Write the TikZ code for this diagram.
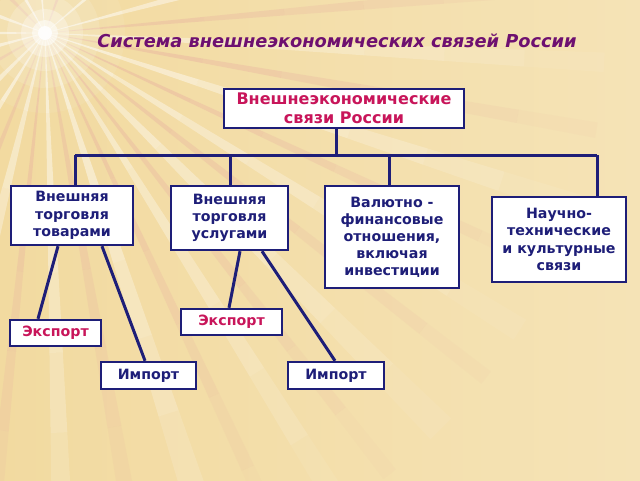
\documentclass[tikz,border=0pt]{standalone}
\usepackage{fontspec}
\setmainfont{DejaVu Sans}
\definecolor{bg}{HTML}{F2DAA0}
\definecolor{bglight}{HTML}{F5E3B6}
\definecolor{navy}{HTML}{1E1E78}
\definecolor{ttl}{HTML}{6E1070}
\definecolor{rd}{HTML}{C8155A}
\definecolor{rayp}{HTML}{E8B0A0}
\tikzset{
  box/.style={draw=navy, line width=2.4pt, fill=white, text=navy, align=center,
    font=\fontsize{14.2}{17.3}\selectfont\bfseries, inner sep=0pt},
  conn/.style={draw=navy, line width=3pt},
}
\begin{document}
\begin{tikzpicture}[x=1pt,y=-1pt]
\useasboundingbox (0,0) rectangle (640,480);
% background
\shade[left color=bg, right color=bglight] (0,0) rectangle (640,480);
\begin{scope}
\clip (0,0) rectangle (640,480);
\begin{scope}[shift={(45,33)}]
\foreach \a/\w/\c/\o in {-120/2/white/0.55,-95/1.5/white/0.55,-70/2/rayp/0.45,-40/1.5/white/0.5,-15/1.2/white/0.5,
  -5/0.8/rayp/0.45,3/1/white/0.45,10/0.8/rayp/0.5,18/1.2/white/0.5,25/0.7/rayp/0.5,32/1.2/white/0.45,
  38/0.8/rayp/0.45,45/1.5/white/0.45,52/0.8/rayp/0.45,58/1.2/white/0.45,65/0.8/rayp/0.45,72/1.5/white/0.5,
  80/1/rayp/0.4,88/1.2/white/0.5,96/0.8/rayp/0.45,104/1.5/white/0.45,112/1/rayp/0.4,122/1.5/white/0.5,
  135/2/white/0.45,150/1.5/rayp/0.4,165/2/white/0.5,180/1.5/white/0.5,200/2/white/0.5,225/2/rayp/0.4}{
  \foreach \k [evaluate=\k as \op using {\o*(1-\k/7)},
               evaluate=\k as \ra using {\k*80},
               evaluate=\k as \rb using {(\k+1)*80}] in {0,...,6}{
    \fill[\c, opacity=\op] (\a-\w:\ra) -- (\a-\w:\rb) -- (\a+\w:\rb) -- (\a+\w:\ra) -- cycle;
  }
}
\foreach \r/\o in {80/0.07,55/0.12,38/0.18,24/0.3,13/0.5,7/0.85}{
  \fill[white, opacity=\o] (0,0) circle (\r);
}
\end{scope}
\end{scope}
% title
\node[text=ttl, font=\fontsize{17.8}{20}\selectfont\bfseries\itshape] (title) at (337,41) {Система внешнеэкономических связей России};
% boxes
\node[box, minimum width=240, minimum height=39, text=rd, font=\fontsize{16}{19}\selectfont\bfseries] (top) at (344,108.5) {Внешнеэкономические\\связи России};
\node[box, minimum width=122, minimum height=59] (b1) at (72,215.5) {Внешняя\\торговля\\товарами};
\node[box, minimum width=117, minimum height=64] (b2) at (229.5,218) {Внешняя\\торговля\\услугами};
\node[box, minimum width=134, minimum height=102, font=\fontsize{14.2}{17}\selectfont\bfseries] (b3) at (392,237) {Валютно -\\финансовые\\отношения,\\включая\\инвестиции};
\node[box, minimum width=134, minimum height=85] (b4) at (559,239.5) {Научно-\\технические\\и культурные\\связи};
\node[box, minimum width=91, minimum height=26, text=rd] (e1) at (55.5,333) {Экспорт};
\node[box, minimum width=101, minimum height=26, text=rd] (e2) at (231.5,322) {Экспорт};
\node[box, minimum width=95, minimum height=27] (i1) at (148.5,375.5) {Импорт};
\node[box, minimum width=96, minimum height=27] (i2) at (336,375.5) {Импорт};
% connectors
\coordinate (hl) at (75,155);
\coordinate (hr) at (597,155);
\coordinate (hm) at (336,155);
\draw[conn] (hl) -- (hr);
\draw[conn] (top.south -| hm) -- (hm);
\draw[conn] (hl) -- (b1.north -| hl);
\draw[conn] (230,155) -- (b2.north -| 230,0);
\draw[conn] (389,155) -- (b3.north -| 389,0);
\draw[conn] (hr) -- (b4.north -| hr);
\draw[conn] (b1.south -| 58,0) -- (e1.north -| 38,0);
\draw[conn] (b1.south -| 102,0) -- (i1.north -| 145,0);
\draw[conn] (b2.south -| 240,0) -- (e2.north -| 229,0);
\draw[conn] (b2.south -| 262,0) -- (i2.north -| 335,0);
\end{tikzpicture}
\end{document}
